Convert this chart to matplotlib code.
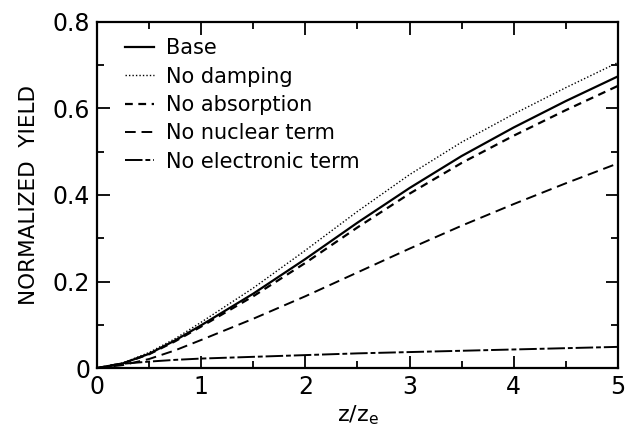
import numpy as np
import matplotlib.pyplot as plt
from matplotlib.ticker import MultipleLocator

plt.rcParams['font.family'] = ['DejaVu Sans']

# yield curves vs depth z/z_e
z = [0, 0.25, 0.5, 0.75, 1.0, 1.5, 2.0, 2.5, 3.0, 3.5, 4.0, 4.5, 5.0]
base = [0, 0.011, 0.033, 0.064, 0.099, 0.172, 0.252, 0.336, 0.416, 0.490, 0.556, 0.617, 0.674]
no_damping = [0, 0.012, 0.036, 0.068, 0.106, 0.185, 0.272, 0.362, 0.447, 0.522, 0.587, 0.648, 0.706]
no_absorption = [0, 0.011, 0.032, 0.062, 0.096, 0.166, 0.243, 0.325, 0.403, 0.474, 0.537, 0.596, 0.652]
no_nuclear = [0, 0.007, 0.021, 0.041, 0.065, 0.114, 0.166, 0.221, 0.276, 0.329, 0.379, 0.427, 0.473]
no_electronic = [0, 0.010, 0.015, 0.019, 0.022, 0.026, 0.030, 0.034, 0.037, 0.040, 0.043, 0.046, 0.049]

fig = plt.figure(figsize=(6.26, 4.29), dpi=100)
ax = fig.add_axes([0.155, 0.142, 0.832, 0.807])

ax.plot(z, base, color='black', lw=1.6, label='Base')
ax.plot(z, no_damping, color='black', lw=1.0, linestyle=(0, (1, 1.5)), label='No damping')
ax.plot(z, no_absorption, color='black', lw=1.6, linestyle=(0, (3.5, 2.5)), label='No absorption')
ax.plot(z, no_nuclear, color='black', lw=1.4, linestyle=(0, (5.5, 3)), label='No nuclear term')
ax.plot(z, no_electronic, color='black', lw=1.4, linestyle=(0, (9, 1.5, 2.5, 1.5)), label='No electronic term')

ax.set_xlim(0, 5)
ax.set_ylim(0, 0.8)
ax.xaxis.set_major_locator(MultipleLocator(1))
ax.xaxis.set_minor_locator(MultipleLocator(0.5))
ax.yaxis.set_minor_locator(MultipleLocator(0.1))
ax.set_yticks([0, 0.2, 0.4, 0.6, 0.8])
ax.set_yticklabels(['0', '0.2', '0.4', '0.6', '0.8'])
ax.tick_params(which='both', direction='in', top=True, right=True, width=1.3)
ax.tick_params(which='major', length=9, labelsize=17, pad=5)
ax.tick_params(which='minor', length=5)
for s in ax.spines.values():
    s.set_linewidth(1.6)

ax.set_xlabel('z/z$_\\mathregular{e}$', fontsize=16, labelpad=3)
ax.set_ylabel('NORMALIZED  YIELD', fontsize=15.5, labelpad=10)

ax.legend(loc='upper left', frameon=False, fontsize=15, handlelength=1.4,
          handletextpad=0.6, labelspacing=0.4, borderaxespad=0.3,
          bbox_to_anchor=(0.025, 0.995))

fig.savefig('out.png', dpi=100)
